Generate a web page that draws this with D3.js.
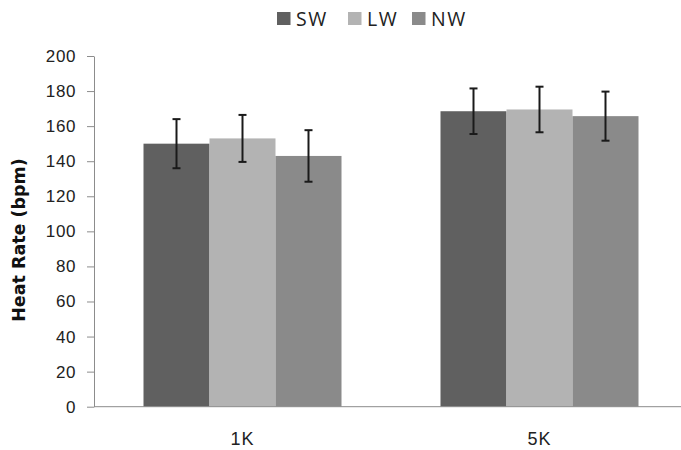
<!DOCTYPE html>
<html>
<head>
<meta charset="utf-8">
<script src="https://cdn.jsdelivr.net/npm/d3@7"></script>
<style>
  body { margin: 0; background: #fff; }
  svg { display: block; font-family: "Open Sans", "DejaVu Sans", sans-serif; }
</style>
</head>
<body>
<svg id="chart" width="681" height="450"></svg>
<script>
const categories = ["1K", "5K"];
const series = ["SW", "LW", "NW"];
const colors = ["#606060", "#b3b3b3", "#8a8a8a"];
// mean heart rate per category, one array per series
const swValues = [150, 168.5];
const lwValues = [153, 169.5];
const nwValues = [143, 165.7];
// standard deviation (error bars)
const swErrors = [14, 13];
const lwErrors = [13.4, 13];
const nwErrors = [14.7, 14];
const yTicks = [0, 20, 40, 60, 80, 100, 120, 140, 160, 180, 200];

const values = [swValues, lwValues, nwValues];
const errors = [swErrors, lwErrors, nwErrors];

const data = [];
categories.forEach((cat, ci) => {
  series.forEach((s, si) => {
    data.push({ cat, series: s, value: values[si][ci], err: errors[si][ci], color: colors[si] });
  });
});

const svg = d3.select("#chart");
const plot = { left: 94, right: 688, top: 56, bottom: 406.7 };

const x0 = d3.scaleBand()
  .domain(categories)
  .range([plot.left, plot.right])
  .paddingInner(1 / 3)
  .paddingOuter(1 / 6);

const x1 = d3.scaleBand()
  .domain(series)
  .range([0, x0.bandwidth()]);

const y = d3.scaleLinear().domain([0, 200]).range([plot.bottom, plot.top]);

// bars
svg.append("g")
  .selectAll("rect")
  .data(data)
  .join("rect")
  .attr("x", (d) => x0(d.cat) + x1(d.series))
  .attr("y", (d) => y(d.value))
  .attr("width", x1.bandwidth())
  .attr("height", (d) => y(0) - y(d.value))
  .attr("fill", (d) => d.color);

// error bars
const eb = svg.append("g")
  .attr("stroke", "#1a1a1a")
  .attr("stroke-width", 2)
  .selectAll("g")
  .data(data)
  .join("g")
  .attr("transform", (d) => `translate(${x0(d.cat) + x1(d.series) + x1.bandwidth() / 2},0)`);

eb.append("line")
  .attr("y1", (d) => y(d.value + d.err))
  .attr("y2", (d) => y(d.value - d.err));
eb.append("line")
  .attr("x1", -4).attr("x2", 4)
  .attr("y1", (d) => y(d.value + d.err))
  .attr("y2", (d) => y(d.value + d.err));
eb.append("line")
  .attr("x1", -4).attr("x2", 4)
  .attr("y1", (d) => y(d.value - d.err))
  .attr("y2", (d) => y(d.value - d.err));

// y axis
const yAxis = d3.axisLeft(y).tickValues(yTicks).tickSize(7).tickSizeOuter(0).tickPadding(11);
const yG = svg.append("g")
  .attr("transform", `translate(${plot.left},0)`)
  .call(yAxis);
yG.select(".domain").attr("stroke", "#8c8c8c");
yG.selectAll(".tick line").attr("stroke", "#8c8c8c");
yG.selectAll(".tick text")
  .attr("fill", "#222")
  .style("font-size", "17px")
  .style("letter-spacing", "0.6px");

// x axis
const xAxis = d3.axisBottom(x0).tickSize(0).tickPadding(26);
const xG = svg.append("g")
  .attr("transform", `translate(0,${plot.bottom})`)
  .call(xAxis);
xG.select(".domain").attr("stroke", "#8c8c8c").attr("d", `M${plot.left},0H${plot.right}`);
xG.selectAll(".tick text")
  .attr("fill", "#222")
  .style("font-size", "18px")
  .style("letter-spacing", "1px");

// y title
svg.append("text")
  .attr("transform", `translate(25,240) rotate(-90)`)
  .attr("text-anchor", "middle")
  .style("font-family", "'DejaVu Sans', sans-serif")
  .style("font-size", "17.5px")
  .style("font-weight", "bold")
  .attr("fill", "#111")
  .text("Heat Rate (bpm)");

// legend
const legendX = [277, 348, 412];
const legend = svg.append("g")
  .selectAll("g")
  .data(series)
  .join("g")
  .attr("transform", (d, i) => `translate(${legendX[i]},12)`);
legend.append("rect")
  .attr("width", 13.5)
  .attr("height", 13)
  .attr("fill", (d, i) => colors[i]);
legend.append("text")
  .attr("x", 19)
  .attr("y", 13.7)
  .style("font-size", "19.5px")
  .style("letter-spacing", "1.5px")
  .attr("fill", "#222")
  .text((d) => d);
</script>
</body>
</html>
